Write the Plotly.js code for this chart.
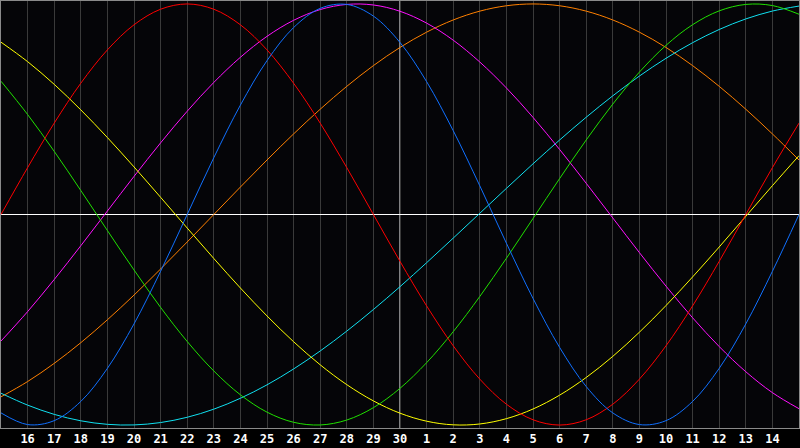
<!DOCTYPE html>
<html>
<head>
<meta charset="utf-8">
<script src="https://cdn.plot.ly/plotly-3.0.1.min.js"></script>
<style>html,body{margin:0;padding:0;background:#000;}#chart{width:800px;height:448px;}</style>
</head>
<body>
<div id="chart"></div>
<script>
// Day labels for each sampled point (index 0 .. 30); ticks shown for 1..29
var days = ['15','16','17','18','19','20','21','22','23','24','25','26','27','28','29','30',
            '1','2','3','4','5','6','7','8','9','10','11','12','13','14','15'];

var red = [0,0.2225,0.4339,0.6235,0.7818,0.9010,0.9749,1,0.9749,0.9010,0.7818,0.6235,0.4339,0.2225,0,
  -0.2225,-0.4339,-0.6235,-0.7818,-0.9010,-0.9749,-1,-0.9749,-0.9010,-0.7818,-0.6235,-0.4339,-0.2225,0,0.2225,0.4339];
var blue = [-0.9423,-0.9977,-0.9791,-0.8879,-0.7308,-0.5196,-0.2698,0,0.2698,0.5196,0.7308,0.8879,0.9791,0.9977,0.9423,
  0.8170,0.6311,0.3984,0.1362,-0.1362,-0.3984,-0.6311,-0.8170,-0.9423,-0.9977,-0.9791,-0.8879,-0.7308,-0.5196,-0.2698,0];
var green = [0.6329,0.4750,0.3000,0.1140,-0.0761,-0.2634,-0.4412,-0.6031,-0.7431,-0.8563,-0.9387,-0.9869,-0.9996,-0.9761,-0.9174,
  -0.8256,-0.7038,-0.5566,-0.3893,-0.2079,-0.0190,0.1706,0.3539,0.5245,0.6762,0.8033,0.9015,0.9671,0.9978,0.9924,0.9511];
var yellow = [0.8184,0.7260,0.6182,0.4970,0.3654,0.2260,0.0817,-0.0643,-0.2089,-0.3491,-0.4818,-0.6042,-0.7139,-0.8082,-0.8853,
  -0.9436,-0.9817,-0.9990,-0.9949,-0.9697,-0.9238,-0.8581,-0.7741,-0.6738,-0.5590,-0.4324,-0.2965,-0.1544,-0.0087,0.1369,0.2796];
var magenta = [-0.6011,-0.4613,-0.3090,-0.1483,0.0165,0.1809,0.3402,0.4905,0.6272,0.7467,0.8461,0.9223,0.9733,0.9978,0.9951,
  0.9652,0.9090,0.8280,0.7242,0.6011,0.4613,0.3090,0.1483,-0.0165,-0.1809,-0.3402,-0.4905,-0.6272,-0.7467,-0.8461,-0.9223];
var orange = [-0.8660,-0.7934,-0.7071,-0.6088,-0.5,-0.3827,-0.2588,-0.1305,0,0.1305,0.2588,0.3827,0.5,0.6088,0.7071,
  0.7934,0.8660,0.9239,0.9659,0.9914,1,0.9914,0.9659,0.9239,0.8660,0.7934,0.7071,0.6088,0.5,0.3827,0.2588];
var cyan = [-0.8488,-0.9053,-0.9492,-0.9798,-0.9966,-0.9994,-0.9881,-0.9631,-0.9245,-0.8728,-0.8090,-0.7336,-0.6482,-0.5537,-0.4513,
  -0.3427,-0.2290,-0.1123,0.0059,0.1241,0.2407,0.3538,0.4619,0.5637,0.6575,0.7418,0.8160,0.8787,0.9289,0.9662,0.9899];

var series = [
  {y: orange,  c: '#ff8000'},
  {y: cyan,    c: '#10e0f0'},
  {y: magenta, c: '#ff10ff'},
  {y: yellow,  c: '#ffff00'},
  {y: green,   c: '#20e000'},
  {y: red,     c: '#ff0000'},
  {y: blue,    c: '#1070ff'}
];

var xs = days.map(function(d, i){ return i; });
var tickIdx = xs.slice(1, 30);
var tickTxt = days.slice(1, 30);

var traces = series.map(function(s){
  return {x: xs, y: s.y, type: 'scatter', mode: 'lines',
          line: {color: s.c, width: 1, shape: 'spline', smoothing: 1},
          hoverinfo: 'skip', showlegend: false};
});

var layout = {
  width: 800, height: 448,
  margin: {l: 1, r: 1, t: 1, b: 20, pad: 0},
  paper_bgcolor: '#000000',
  plot_bgcolor: '#050508',
  showlegend: false,
  xaxis: {range: [0, 30], tickvals: tickIdx, ticktext: tickTxt,
          showgrid: true, gridcolor: '#3a3a3a', gridwidth: 1,
          zeroline: false, ticks: '', ticklen: 0,
          tickfont: {family: 'DejaVu Sans Mono', size: 12, color: '#ffffff', weight: 'bold'},
          showline: true, linecolor: '#8a8a8a', linewidth: 1, mirror: true,
          fixedrange: true},
  yaxis: {range: [-1.014, 1.014], showticklabels: false, showgrid: false,
          zeroline: true, zerolinecolor: '#ffffff', zerolinewidth: 1,
          showline: true, linecolor: '#8a8a8a', linewidth: 1, mirror: true,
          ticks: '', fixedrange: true},
  shapes: [
    {type: 'line', xref: 'x', yref: 'paper', x0: 15, x1: 15, y0: 0, y1: 1,
     line: {color: '#ffffff', width: 1}, layer: 'below'}
  ]
};

Plotly.newPlot('chart', traces, layout, {displayModeBar: false, staticPlot: true});
</script>
</body>
</html>
